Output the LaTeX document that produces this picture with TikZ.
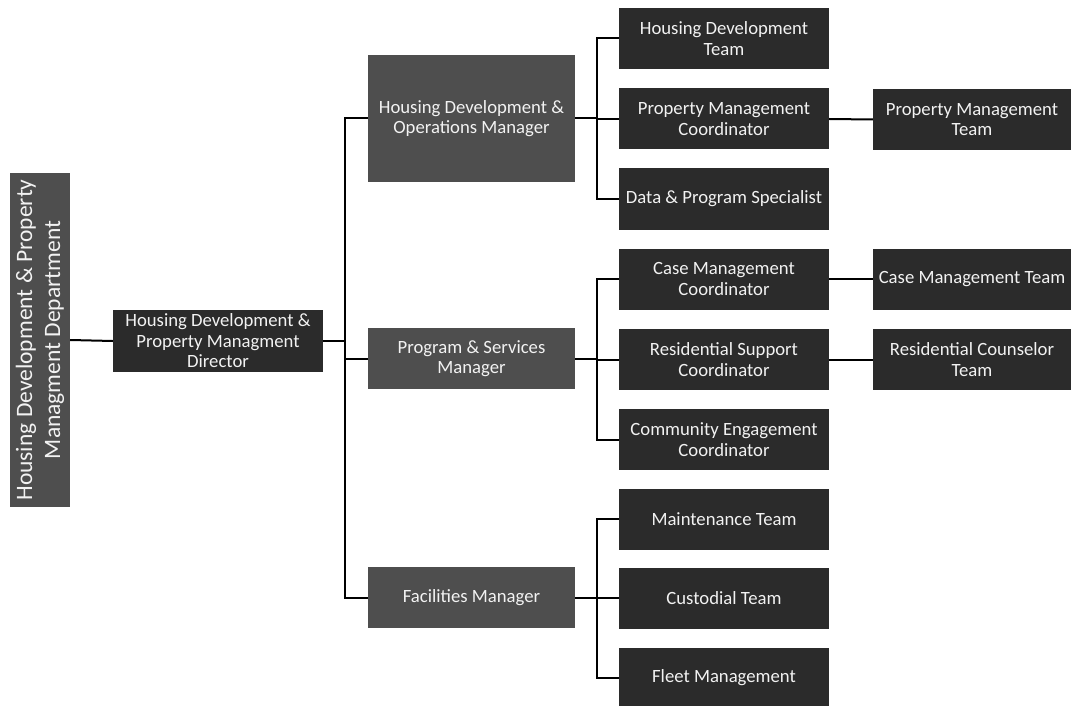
\documentclass[tikz,border=0pt]{standalone}
\usepackage{fontspec}
\setmainfont{Carlito}
\usepackage{tikz}
\usetikzlibrary{positioning,calc}
\definecolor{orgdark}{HTML}{2B2B2B}
\definecolor{orggrey}{HTML}{4E4E4E}
\definecolor{orgtext}{HTML}{F2F2F2}

\tikzset{
  orgbox/.style={fill=orgdark, text=orgtext, align=center, inner sep=1pt,
    font=\fontsize{18.7}{20.5}\selectfont, minimum height=61pt},
  mgrbox/.style={orgbox, fill=orggrey, minimum width=207pt},
  unitbox/.style={orgbox, minimum width=210pt},
  teambox/.style={orgbox, minimum width=198pt},
  link/.style={line width=2pt, black}
}

\begin{document}
\begin{tikzpicture}[x=1pt, y=-1pt]
    \useasboundingbox (0,0) rectangle (1071,706);

    \node[orgbox, fill=orggrey, rotate=90, minimum width=334pt, minimum height=60pt,
      font=\fontsize{23.5}{28}\selectfont] (dept) at (40,340)
      {Housing Development \& Property\\Managment Department};
    \node[orgbox, minimum width=210pt, minimum height=62pt] (director) at (218,341)
      {Housing Development \&\\Property Managment\\Director};

    \node[mgrbox, minimum height=127pt] (opsmgr) at (471.5,118.5) {Housing Development \&\\Operations Manager};
    \node[mgrbox] (progmgr) at (471.5,358.5) {Program \& Services\\Manager};
    \node[mgrbox] (facmgr) at (471.5,597.5) {Facilities Manager};

    \node[unitbox] (devteam) at (724,38.5) {Housing Development\\Team};
    \node[unitbox] (propcoord) at (724,119) {Property Management\\Coordinator};
    \node[unitbox] (dataspec) at (724,199) {Data \& Program Specialist};
    \node[unitbox] (casecoord) at (724,279) {Case Management\\Coordinator};
    \node[unitbox] (rescoord) at (724,359.5) {Residential Support\\Coordinator};
    \node[unitbox] (commcoord) at (724,439.5) {Community Engagement\\Coordinator};
    \node[unitbox] (mainteam) at (724,519) {Maintenance Team};
    \node[unitbox] (custteam) at (724,598) {Custodial Team};
    \node[unitbox] (fleet) at (724,678) {Fleet Management};

    \node[teambox] (propteam) at (972,119.5) {Property Management\\Team};
    \node[teambox] (caseteam) at (972,279) {Case Management Team};
    \node[teambox] (resteam) at (972,359.5) {Residential Counselor\\Team};

    \coordinate (trunk) at (345,0);
    \draw[link] (dept.south) -- (director.west);
    \draw[link] (director.east) -- (director.east -| trunk);
    \draw[link] (opsmgr.west) -- (opsmgr.west -| trunk) |- (facmgr.west);
    \draw[link] (progmgr.west) -- (progmgr.west -| trunk);

    \draw[link] (opsmgr.east) -- ++(22,0);
    \draw[link] (devteam.west) -- ++(-22,0) |- (dataspec.west);
    \draw[link] (propcoord.west) -- ++(-22,0);

    \draw[link] (progmgr.east) -- ++(22,0);
    \draw[link] (casecoord.west) -- ++(-22,0) |- (commcoord.west);
    \draw[link] (rescoord.west) -- ++(-22,0);

    \draw[link] (facmgr.east) -- ++(22,0);
    \draw[link] (mainteam.west) -- ++(-22,0) |- (fleet.west);
    \draw[link] (custteam.west) -- ++(-22,0);

    \draw[link] (propcoord.east) -- (propteam.west);
    \draw[link] (casecoord.east) -- (caseteam.west);
    \draw[link] (rescoord.east) -- (resteam.west);
  \end{tikzpicture}
\end{document}
